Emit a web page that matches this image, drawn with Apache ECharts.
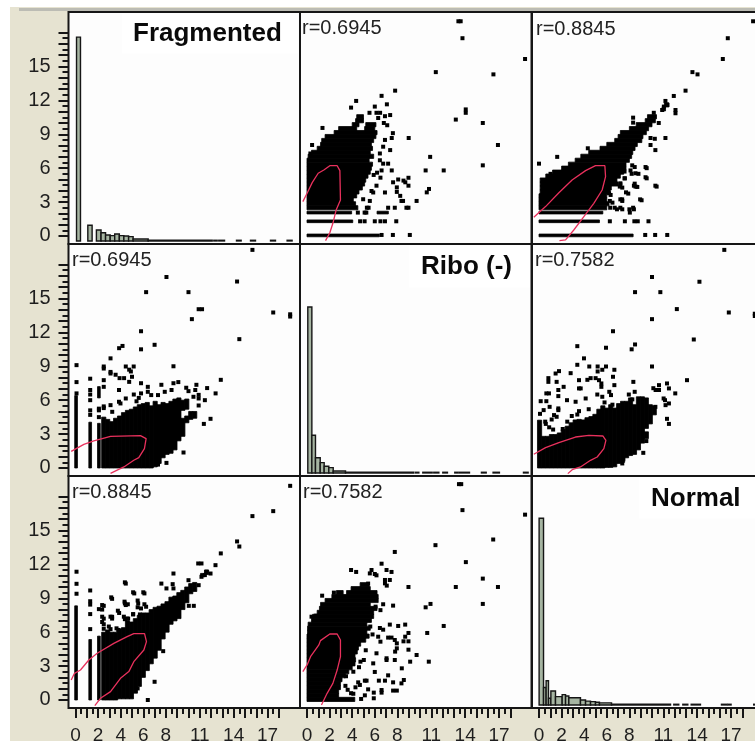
<!DOCTYPE html>
<html><head><meta charset="utf-8">
<style>html,body{margin:0;padding:0;background:#fff}#c{width:755px;height:741px}</style>
<script src="https://cdn.jsdelivr.net/npm/echarts@6/dist/echarts.min.js"></script>
</head><body><div id="c"></div>
<script>
const variables = ['Fragmented', 'Ribo (-)', 'Normal'];
const rFragRibo = 'r=0.6945', rFragNormal = 'r=0.8845', rRiboNormal = 'r=0.7582';
const xTickLabels = [0, 2, 4, 6, 8, 11, 14, 17];
const yTickLabels = [0, 3, 6, 9, 12, 15];
const longTicks = [0,1,2,3,4,5,6,7,8,9,10,11,12,13,14,15,16,17,18];
const shortTicks = [0.5,1.5,2.5,3.5,4.5,5.5,6.5,7.5,8.5,9.5,10.5,11.5,12.5,13.5,14.5,15.5,16.5,17.5];

// histogram bins: [from, to, top]
const histFragmented = [[.09,.44,17.6],[1.09,1.47,.95],[1.85,2.26,.53],[2.26,2.66,.29],[2.66,3.07,.09],[3.07,3.47,.03],[3.47,3.88,.18],[3.88,4.28,.03],[4.28,4.7,0],[4.7,5.1,-.06],[5.1,6.43,-.27],[6.43,12.1,-.38],[12.24,12.54,-.38],[12.68,13.19,-.38],[14.25,14.66,-.38],[15.49,15.93,-.38],[17.26,17.7,-.38],[18.73,19.17,-.38]];
const histRibo = [[.07,.43,14.25],[.43,.75,2.9],[.75,1.17,.9],[1.17,1.52,.47],[1.52,1.93,.15],[1.93,2.32,.03],[2.32,3.41,-.27],[3.41,9.45,-.38],[9.6,9.9,-.38],[10.25,11.08,-.38],[11.22,11.67,-.38],[12.02,12.43,-.38],[13.08,13.38,-.38],[13.5,14.38,-.38],[15.44,15.86,-.38],[16.47,17.03,-.38],[19.16,19.57,-.38]];
const histNormal = [[.01,.4,16.08],[.4,.63,1.1],[.63,.84,1.7],[.84,1.05,.15],[1.05,1.46,.8],[1.46,2.05,.3],[2.05,2.35,.47],[2.35,2.64,.35],[2.64,3.67,.2],[3.67,4.12,0],[4.12,4.56,-.1],[4.56,5,-.15],[5,5.35,-.2],[5.35,6.42,-.26],[6.42,11.64,-.38],[11.93,12.37,-.38],[12.73,13.17,-.38],[13.47,14.29,-.38],[16.15,16.65,-.38],[16.74,17,-.38],[19,19.16,-.38]];

// dense clouds as runs: [key value, from, to]; key is Fragmented for the first two, Normal for the third
const denseFragRibo = [[2.5,0,4.5],[2.85,0,4.3],[3.2,0,4.1],[3.55,0,4.4],[3.9,0,4.6],[4.25,0,4.9],[4.6,0,5.1],[4.95,0,5.2],[5.3,0,5.4],[5.65,0,5.6],[6,0,5.7],[6.35,0,5.8],[6.7,0,5.5],[7.05,.1,5.9],[7.4,.4,5.6],[7.75,.9,5.8],[8.1,1.2,5.7],[8.45,1.3,5.9],[8.8,1.6,6.1],[9.15,2.4,6.2],[9.5,2.8,4.4],[9.5,5.1,6],[9.85,4,4.6],[9.85,5.2,6.1],[10.2,4.3,5],[10.55,4.4,5]];
const denseFragNormal = [[2.5,0,6],[2.85,0,6.2],[3.2,0,6],[3.55,0,6],[3.9,.1,6.3],[4.25,.1,6.4],[4.6,.1,7],[4.95,.1,6.9],[5.3,.6,7.2],[5.65,1.2,7.5],[6,2,7.7],[6.35,2.6,7.7],[6.7,3.2,8],[7.05,3.7,8.2],[7.4,4.4,8.3],[7.75,5.4,8.5],[8.1,6,8.7],[8.45,6.7,9.1],[8.8,7,9.2],[9.15,7.2,9.5],[9.5,8,9.7],[9.85,8.6,10],[10.2,9.4,10.3],[10.55,9.6,10.4],[11.25,10.9,11.2],[11.6,11.1,11.5]];
const denseNormalRibo = [[.05,0,4.23],[.4,0,2.8],[.75,0,2.8],[1.1,0,2.96],[1.45,0,2.96],[1.8,0,3.1],[2.15,0,3.4],[2.5,0,3.7],[2.85,0,4],[3.2,0,4.25],[3.55,0,4.3],[3.9,0,4.25],[4.25,0,4.45],[4.6,0,4.55],[4.95,0,4.75],[5.3,0,5.2],[5.65,0,5.5],[6,.05,5.3],[6.35,.05,5.6],[6.7,.1,5.3],[7.05,.4,5.7],[7.4,.5,5.9],[7.75,.9,5.9],[8.1,1.1,6.2],[8.45,1.2,5.6],[8.8,1.6,6.3],[9.15,2.2,6.3],[9.5,2.6,3.2],[9.5,3.5,6.2],[9.85,3.9,5.6],[10.2,4.7,5.5]];

// discrete stripes: [Fragmented level, from, to]
const stripesFragRibo = [[.05,0,6.4],[1.3,0,4.05],[2.07,0,3.95],[2.07,6.2,7.2]];
const stripesFragNormal = [[.05,0,8.33],[1.3,0,5.35],[2.07,0,5.65]];

// single points: [Ribo, Fragmented]
const pointsFragRibo = [[13.4,19],[13.6,19],[13.76,17.5],[19.3,15.66],[11.4,14.5],[16.5,14.3],[7.8,12.86],[6.6,12.4],[4.35,11.95],[7.07,11.65],[3.9,11.36],[6,11.45],[6.15,10.9],[5.53,10.9],[6.47,10.9],[7.36,10.7],[6.9,10.6],[6.3,10.44],[14.05,11.2],[14.05,10.9],[13.17,10.3],[15.56,10],[16.9,8.05],[15.56,6.25],[10.9,7],[10.5,5.8],[12.1,5.8],[9,8.67],[7.6,9.1],[7.5,8.67],[6.9,8.5],[6.74,7.9],[7.36,7.6],[6.45,7.3],[6.45,6.7],[6.74,6.4],[7.18,6.4],[1.37,9.56],[.45,8.05],[.3,7.3],[6.8,10],[7.1,9.8],[7.5,5.8],[8.07,5],[8.54,4.9],[8.98,5.15],[7.62,4.75],[8.7,4.75],[8.98,4.45],[10.8,4.16],[10.6,3.86],[9.7,3.1],[7.95,4.3],[7.95,3.9],[6.9,3.85],[8.25,3.55],[8.36,3.1],[8.5,3.1],[8.8,2.5],[8.98,2.5],[7.77,2.5],[7.18,2.5],[5.71,3.98],[5.86,3.85],[6.15,4.45],[5.56,3.1],[4.97,3.25],[4.5,2.07],[5.1,2.07],[5.25,2.07],[5.3,2.5],[5.45,2.5],[4.7,1.3],[5.1,1.3],[6,1.3],[6.5,1.3],[6.9,1.3],[7.9,1.3],[6.6,.09],[7.6,.09],[9.1,.09],[6.5,5.16],[6.2,5.6],[5.9,5.4],[6.6,5.8]];
// single points: [Normal, Fragmented]
const pointsFragNormal = [[18.95,19],[16.71,17.5],[16.27,15.66],[13.58,14.5],[14.03,14.3],[12.97,12.86],[11.93,12.39],[11.19,11.95],[11.05,11.45],[11.35,11.6],[10.9,11.15],[12.08,11.15],[12.08,10.86],[10.16,10.9],[8.33,10.47],[8.33,10.03],[10.6,10],[9.87,8.67],[10.25,8.6],[11.19,8.67],[9.87,8.05],[10.3,7.6],[4.32,7.76],[1.61,7],[0,6.4],[1.02,5.5],[9.43,6.1],[9.43,5.2],[10.3,4.45],[8.95,3.24],[8.54,4.37],[8.4,4.45],[7.7,3.86],[7.2,4.66],[7.15,4.37],[8.25,6.25],[8.1,5.8],[8.54,5.55],[7.57,5.7],[7.57,5.1],[7.2,3.24],[7.36,3.24],[6.3,2.5],[6.7,2.5],[7.2,2.5],[8.33,2.5],[8.04,2.07],[6.27,3.1],[6.2,3.78],[6.27,1.3],[7.6,1.3],[8.44,1.3],[8.74,1.3],[9.69,1.3],[9.4,.09],[10.28,.09],[11.35,.09],[10.41,4.37],[9.08,3.16],[9.53,5.1],[9.53,6],[8.7,4.34],[8.47,4.63],[8.8,5.5],[8.47,6.1],[8.2,5.5],[7.9,3.75],[7.37,3.1],[8.4,2.36],[8,2.36],[7.37,2.36],[6.9,2.36],[6.5,2.95],[7.37,4.28],[7.2,4.57],[7.6,5.1],[6.34,3.63]];
// single points: [Ribo, Normal]
const pointsRiboNormal = [[13.45,19.1],[13.65,19.1],[13.76,16.8],[19.3,16.4],[16.48,14.2],[11.37,13.7],[7.77,13.1],[6.6,12.06],[14.06,12.2],[3.9,11.5],[4.35,11.33],[7.04,11.5],[7.48,11.33],[5.71,11.5],[5.56,11.2],[6,11.15],[6.15,11.03],[7.33,10.62],[6.9,10.62],[6.9,10.32],[7.06,10.12],[15.56,10.74],[8.98,10],[13.17,10],[16.9,10],[5.41,10.3],[15.56,8.5],[10.93,8.5],[10.5,8.2],[7.62,8.35],[6.74,8.47],[6.5,7.95],[12.1,6.55],[10.64,5.93],[8.98,5.93],[8.69,5.6],[7.33,6.67],[8.07,6.55],[8.69,6.67],[6.45,6.37],[6.74,6.22],[7.18,5.52],[7.48,5.52],[7.77,5.31],[7.95,5.01],[8.54,5.19],[8.98,5.19],[8.98,4.45],[9.7,3.98],[9.13,3.39],[10.78,3.39],[7.95,4.57],[7.8,4.28],[7.04,3.69],[7.04,3.54],[7.77,3.54],[5.86,3.24],[8.39,2.8],[6,2.48],[7.18,2.18],[7.62,1.56],[8.36,1.47],[8.57,1.77],[5.12,1.71],[5.27,1.71],[6.36,1.71],[6.9,1.71],[4.53,1.56],[4.68,1.33],[4.29,1.12],[5.41,.94],[6.6,.88],[6.6,.65],[7.62,.83],[7.95,.83],[5.91,.65],[5.91,.15],[5.12,.41],[4.79,.09],[4.73,3.39],[5.03,3.54],[6.15,4.13],[6.5,5.16],[5.6,6.5],[6.07,8.26],[1.34,9.23],[2.38,9.5],[.4,7.37],[.81,7.46],[3.4,1.25],[3.6,.9],[3.9,.6],[3.45,2.1],[4.1,2.5],[4.6,2.9],[5.2,4.4],[5.8,5.8],[4.1,.55],[6.3,5.6]];

// density ellipse traces
const ellipseRiboFrag = [[-.37,3.04],[.01,3.78],[.46,4.72],[.99,5.55],[1.49,5.84],[2.02,6.22],[2.67,6.22],[2.91,5.78],[2.96,3.19],[2.58,2.3],[2.29,1.12],[2.02,.29],[1.64,-.41]];
const ellipseFragRibo = [[-.38,1.47],[.74,2.09],[1.62,2.39],[3.1,2.8],[5.75,2.86],[6.25,2.6],[6.1,1.71],[5.6,.91],[5.16,.68],[4.28,.09],[3.1,-.47]];
const ellipseNormalFrag = [[-.46,1.65],[.58,2.6],[1.76,3.83],[2.93,4.96],[4.12,5.78],[5,6.22],[5.83,6.22],[5.89,5.25],[5.59,4.07],[4.85,2.89],[3.97,1.71],[3.08,.53],[2.35,-.35],[1.81,-.41]];
const ellipseFragNormal = [[-.38,1.77],[-.09,2.36],[.44,2.65],[1.18,3.54],[1.92,4.13],[3.39,5.01],[4.57,5.6],[5.16,5.87],[6.11,5.87],[6.28,5.16],[6.05,4.42],[5.16,3.39],[4.72,2.51],[3.98,1.92],[3.1,.74],[2.21,.15],[1.71,-.5]];
const ellipseNormalRibo = [[-.46,1.21],[.58,1.8],[1.76,2.24],[3.23,2.74],[4.41,2.89],[5.65,2.83],[5.92,2.45],[5.74,1.71],[5.15,.97],[4.56,.68],[3.67,.09],[2.94,-.15],[2.55,-.5]];
const ellipseRiboNormal = [[-.37,2.51],[.01,3.1],[.31,3.83],[1.05,4.87],[1.19,5.25],[2.02,5.84],[2.67,5.84],[2.96,5.31],[2.96,3.83],[2.67,2.65],[2.29,1.47],[1.78,.59],[1.28,-.44]];

const HIST_BASE = -.44, DENSE_ROW = .37, STRIPE_ROW = .24;
const INK = '#000000', LINE = '#161616', RED = '#e8305c', BAR = '#a6b5a2', BEIGE = '#e6e3d1', PANEL = '#fdfdfd', TICKTXT = '#1e1e1e';
const lefts = [68.5, 300, 532], tops = [12, 244, 476], cellW = 231.5, cellH = 232;
const xMin = -.62, xMax = 19.87, yMin = -.71, yMax = 19.82;
const tickFont = '"Liberation Sans"';

const grids = [], xAxes = [], yAxes = [], series = [];
for (let r = 0; r < 3; r++) for (let c = 0; c < 3; c++) {
  grids.push({left: lefts[c], top: tops[r], width: cellW, height: cellH, outerBoundsMode: 'none', containLabel: false, show: true, backgroundColor: PANEL, borderColor: LINE, borderWidth: 2});
  const bottomRow = r === 2, leftCol = c === 0;
  xAxes.push({gridIndex: 3*r+c, type: 'value', position: 'bottom', min: xMin, max: xMax, show: bottomRow, splitLine: {show: false},
    axisLine: {show: false, onZero: false},
    axisTick: {show: bottomRow, customValues: longTicks, length: 10, lineStyle: {color: LINE, width: 2}},
    axisLabel: {show: bottomRow, customValues: xTickLabels, margin: 18, fontSize: 19, fontFamily: tickFont, color: TICKTXT}});
  yAxes.push({gridIndex: 3*r+c, type: 'value', position: 'left', min: yMin, max: yMax, show: leftCol, splitLine: {show: false},
    axisLine: {show: false, onZero: false},
    axisTick: {show: leftCol, customValues: longTicks, length: 10, lineStyle: {color: LINE, width: 2}},
    axisLabel: {show: leftCol, customValues: yTickLabels, margin: 18, fontSize: 20, fontFamily: tickFont, color: TICKTXT, padding: [6, 0, 0, 0]}});
}
// short in-between ticks live on a second, label-free axis in the same grid
for (let c = 0; c < 3; c++) xAxes.push({gridIndex: 6+c, type: 'value', position: 'bottom', min: xMin, max: xMax, splitLine: {show: false},
  axisLine: {show: false, onZero: false}, axisLabel: {show: false},
  axisTick: {show: true, customValues: shortTicks, length: 6, lineStyle: {color: LINE, width: 2}}});
for (let r = 0; r < 3; r++) yAxes.push({gridIndex: 3*r, type: 'value', position: 'left', min: yMin, max: yMax, splitLine: {show: false},
  axisLine: {show: false, onZero: false}, axisLabel: {show: false},
  axisTick: {show: true, customValues: shortTicks, length: 6, lineStyle: {color: LINE, width: 2}}});

function runs(g, rows, thick, keyIsY) {
  series.push({type: 'custom', xAxisIndex: g, yAxisIndex: g, z: 2, clip: true, silent: true, data: rows,
    renderItem(p, api) {
      const k = api.value(0), a = api.value(1), b = api.value(2);
      const p1 = keyIsY ? api.coord([a, k - thick/2]) : api.coord([k - thick/2, a]);
      const p2 = keyIsY ? api.coord([b, k + thick/2]) : api.coord([k + thick/2, b]);
      return {type: 'rect', shape: {x: Math.min(p1[0], p2[0]), y: Math.min(p1[1], p2[1]), width: Math.abs(p2[0]-p1[0]), height: Math.abs(p2[1]-p1[1])}, style: {fill: INK, stroke: INK, lineWidth: 0.8}};
    }});
}
function dots(g, pts) {
  series.push({type: 'scatter', xAxisIndex: g, yAxisIndex: g, z: 3, silent: true, symbol: 'rect', symbolSize: 4, itemStyle: {color: INK, opacity: 1}, data: pts, animation: false});
}
function ellipse(g, pts) {
  series.push({type: 'line', xAxisIndex: g, yAxisIndex: g, z: 4, silent: true, showSymbol: false, lineStyle: {color: RED, width: 1.3}, data: pts, animation: false});
}
function hist(g, bins) {
  series.push({type: 'custom', xAxisIndex: g, yAxisIndex: g, z: 2, silent: true, data: bins,
    renderItem(p, api) {
      const a = api.coord([api.value(0), api.value(2)]), b = api.coord([api.value(1), HIST_BASE]);
      return {type: 'rect', shape: {x: a[0], y: a[1], width: b[0]-a[0], height: b[1]-a[1]}, style: {fill: BAR, stroke: LINE, lineWidth: 1.4}};
    }});
}
const swap = a => a.map(d => [d[1], d[0]]);

hist(0, histFragmented); hist(4, histRibo); hist(8, histNormal);
// row 0: y = Fragmented
runs(1, denseFragRibo, DENSE_ROW, true); runs(1, stripesFragRibo, STRIPE_ROW, true); dots(1, pointsFragRibo); ellipse(1, ellipseRiboFrag);
runs(2, denseFragNormal, DENSE_ROW, true); runs(2, stripesFragNormal, STRIPE_ROW, true); dots(2, pointsFragNormal); ellipse(2, ellipseNormalFrag);
// row 1: y = Ribo
runs(3, denseFragRibo, DENSE_ROW, false); runs(3, stripesFragRibo, STRIPE_ROW, false); dots(3, swap(pointsFragRibo)); ellipse(3, ellipseFragRibo);
runs(5, denseNormalRibo, DENSE_ROW, false); dots(5, swap(pointsRiboNormal)); ellipse(5, ellipseNormalRibo);
// row 2: y = Normal
runs(6, denseFragNormal, DENSE_ROW, false); runs(6, stripesFragNormal, STRIPE_ROW, false); dots(6, swap(pointsFragNormal)); ellipse(6, ellipseFragNormal);
runs(7, denseNormalRibo, DENSE_ROW, true); dots(7, pointsRiboNormal); ellipse(7, ellipseRiboNormal);

const rFont = '20px "Liberation Sans"', titleFont = 'bold 26px "Liberation Sans"';
const rText = (x, y, t) => ({type: 'text', left: x, top: y, z: 6, style: {text: t, font: rFont, fill: '#222', verticalAlign: 'top'}});
const box = (x, y, w, h) => ({type: 'rect', left: x, top: y, z: 5, shape: {width: w, height: h}, style: {fill: '#ffffff'}});
const ttl = (x, y, t) => ({type: 'text', left: x, top: y, z: 6, style: {text: t, font: titleFont, fill: '#0a0a0a', verticalAlign: 'top'}});
const graphic = [
  {type: 'rect', left: 10, top: 7, z: -5, shape: {width: 745, height: 734}, style: {fill: BEIGE}},
  {type: 'rect', left: 19, top: 8, z: -4, shape: {width: 736, height: 3}, style: {fill: '#bcbcb4'}},
  box(122, 13.5, 176, 40), box(409, 245.5, 121, 42), box(639, 477.5, 116, 41),
  ttl(133, 21, variables[0]), ttl(421, 254, variables[1]), ttl(651, 486, variables[2]),
  rText(302, 18, rFragRibo), rText(536, 19, rFragNormal), rText(72, 250, rFragRibo),
  rText(535, 250, rRiboNormal), rText(72, 482, rFragNormal), rText(303, 482, rRiboNormal)
];
const chart = echarts.init(document.getElementById('c'), null, {renderer: 'canvas'});
chart.setOption({animation: false, backgroundColor: 'transparent', grid: grids, xAxis: xAxes, yAxis: yAxes, series, graphic});
</script></body></html>
